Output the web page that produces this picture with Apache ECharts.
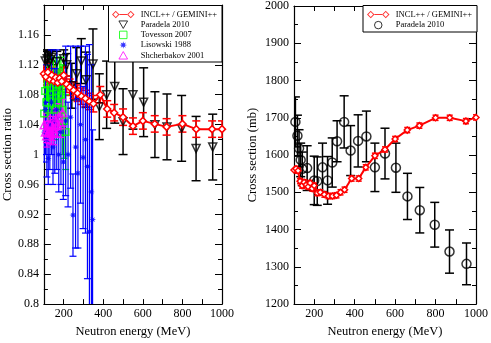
<!DOCTYPE html>
<html>
<head>
<meta charset="utf-8">
<script src="https://cdn.jsdelivr.net/npm/echarts@6/dist/echarts.min.js"></script>
<style>
  html, body { margin: 0; padding: 0; background: #fff; }
  #chart { width: 491px; height: 343px; }
</style>
</head>
<body>
<div id="chart"></div>
<script>
// INCL++ / GEMINI++ calculation (same energies in both panels)
const energyIncl = [100,110,120,130,140,150,160,170,180,190,200,215,230,250,270,290,310,330,350,385,420,455,500,550,600,660,720,800,870,950,1000];
const ratioIncl = [1.108,1.104,1.110,1.100,1.106,1.098,1.103,1.096,1.102,1.098,1.106,1.094,1.090,1.086,1.082,1.078,1.075,1.071,1.068,1.080,1.061,1.056,1.050,1.038,1.045,1.041,1.037,1.041,1.034,1.034,1.034];
const ratioInclErr = 0.011;
const xsIncl = [1560,1563,1558,1530,1518,1527,1520,1515,1525,1510,1518,1498,1500,1494,1490,1490,1492,1500,1507,1537,1537,1567,1598,1615,1643,1667,1679,1700,1700,1691,1701];
const xsInclErr = 7;

// Paradela 2010
const energyParadela = [107,117,125,133,141,165,200,215,241,266,289,313,348,380,417,458,500,550,604,661,722,796,869,953];
const ratioParadela = [1.125,1.128,1.122,1.127,1.130,1.124,1.128,1.120,1.092,1.108,1.125,1.100,1.121,1.064,1.080,1.091,1.044,1.080,1.070,1.040,1.037,1.035,1.008,1.010];
const ratioParadelaErr = [0.013,0.012,0.014,0.012,0.010,0.014,0.012,0.015,0.030,0.035,0.030,0.037,0.047,0.044,0.045,0.049,0.044,0.046,0.046,0.044,0.044,0.044,0.043,0.044];
const xsParadela = [1689,1652,1618,1587,1563,1565,1532,1530,1567,1532,1580,1637,1689,1612,1638,1650,1567,1604,1566,1489,1452,1413,1341,1308];
const xsParadelaErr = [67,55,50,45,45,60,65,65,65,64,66,55,70,67,70,68,65,68,66,62,61,60,58,56];

// Tovesson 2007
const energyTovesson = [101,106,112,118,124,130,136,142,148,154,160,166,172,178,186,194,202,210];
const ratioTovesson = [1.055,1.085,1.070,1.095,1.060,1.080,1.100,1.075,1.090,1.060,1.100,1.085,1.070,1.095,1.080,1.060,1.045,1.030];
const ratioTovessonErr = [0.020,0.025,0.020,0.025,0.030,0.025,0.030,0.030,0.035,0.040,0.030,0.040,0.045,0.035,0.050,0.060,0.050,0.050];

// Lisowski 1988
const energyLisowski = [102,108,115,122,130,138,146,155,165,175,186,198,210,222,235,247,260,272,285,298,310,320,330,340,346];
const ratioLisowski = [1.030,1.060,1.020,0.995,1.040,1.070,1.010,1.045,1.060,1.000,1.030,0.990,1.045,1.000,1.050,0.919,1.010,0.975,1.040,0.996,1.020,0.984,0.897,0.950,0.913];
const ratioLisowskiErr = [0.040,0.060,0.050,0.035,0.060,0.070,0.050,0.070,0.080,0.050,0.070,0.050,0.100,0.070,0.095,0.055,0.135,0.100,0.105,0.095,0.125,0.150,0.250,0.170,0.120];

// Shcherbakov 2001
const energyShcherbakov = [102,108,114,120,126,132,138,144,150,158,166,175,185,195];
const ratioShcherbakov = [1.040,1.030,1.025,1.035,1.030,1.040,1.028,1.035,1.030,1.045,1.040,1.050,1.040,1.056];
const ratioShcherbakovErr = [0.015,0.014,0.015,0.016,0.015,0.016,0.015,0.016,0.017,0.016,0.017,0.018,0.017,0.018];

const ratioTicks = { min: 0.8, max: 1.2, interval: 0.04 };
const xsTicks = { min: 1200, max: 2000, interval: 100 };
const energyTicks = { min: 100, max: 1000, interval: 100 };

const SERIF = '"Liberation Serif", "DejaVu Serif", serif';
const RED = '#ff0000', BLACK = '#000000', GREEN = '#00ff00', BLUE = '#0000ff', MAGENTA = '#ff00ff';

const inclIcon = 'path://M0,5L5,0L10,5L5,10ZM1.8,5L5,8.2L8.2,5L5,1.8Z' +
  'M10,4.3L20,4.3L20,5.7L10,5.7Z' +
  'M20,5L25,0L30,5L25,10ZM21.8,5L25,8.2L28.2,5L25,1.8Z';
const downTriangle = 'path://M0,0L10,0L5,8.66Z';
const upTriangle = 'path://M5,0L10,8.66L0,8.66Z';
const square = 'path://M0,0L10,0L10,10L0,10Z';
let starPath = 'path://';
for (let k = 0; k < 16; k++) {
  const a = k * Math.PI / 8, r = k % 2 === 0 ? 5 : 2.2;
  starPath += (k === 0 ? 'M' : 'L') + (5 + r * Math.sin(a)).toFixed(2) + ',' + (5 - r * Math.cos(a)).toFixed(2);
}
starPath += 'Z';

function zip(xs, ys, es) {
  return xs.map((x, i) => [x, ys[i], Array.isArray(es) ? es[i] : es]);
}

function errorBars(color, capHalf, width) {
  return function (params, api) {
    const x = api.value(0), y = api.value(1), e = api.value(2);
    const top = api.coord([x, y + e]), bot = api.coord([x, y - e]);
    const st = { stroke: color, lineWidth: width };
    return {
      type: 'group',
      children: [
        { type: 'line', shape: { x1: top[0], y1: top[1], x2: bot[0], y2: bot[1] }, style: st },
        { type: 'line', shape: { x1: top[0] - capHalf, y1: top[1], x2: top[0] + capHalf, y2: top[1] }, style: st },
        { type: 'line', shape: { x1: bot[0] - capHalf, y1: bot[1], x2: bot[0] + capHalf, y2: bot[1] }, style: st }
      ]
    };
  };
}

function errSeries(data, axis, color, capHalf, width) {
  return {
    type: 'custom', xAxisIndex: axis, yAxisIndex: axis, clip: true,
    renderItem: errorBars(color, capHalf, width),
    encode: { x: 0, y: 1 }, data: data, silent: true
  };
}

function pointSeries(name, data, axis, symbol, size, color, filled) {
  return {
    name: name, type: 'scatter', xAxisIndex: axis, yAxisIndex: axis,
    symbol: symbol, symbolSize: size, clip: true,
    itemStyle: filled ? { color: color } : { color: 'transparent', borderColor: color, borderWidth: 1.5 },
    data: data.map(d => [d[0], d[1]])
  };
}

function inclLine(data, axis, size) {
  return {
    type: 'line', xAxisIndex: axis, yAxisIndex: axis,
    symbol: 'diamond', symbolSize: size, showAllSymbol: true,
    itemStyle: { color: '#ffffff', borderColor: RED, borderWidth: 1.5 },
    lineStyle: { color: RED, width: 2 },
    data: data.map(d => [d[0], d[1]])
  };
}

const tickStyle = { lineStyle: { color: BLACK, width: 1 } };
const labelStyle = { color: BLACK, fontFamily: SERIF, fontSize: 12 };
const nameStyle = { color: BLACK, fontFamily: SERIF, fontSize: 12.5 };

function xAxes(grid) {
  const base = Object.assign({ type: 'value', gridIndex: grid, splitLine: { show: false } }, energyTicks);
  return [
    Object.assign({}, base, {
      position: 'bottom',
      name: 'Neutron energy (MeV)', nameLocation: 'middle', nameGap: 17, nameTextStyle: nameStyle,
      axisLine: { onZero: false, lineStyle: { color: BLACK, width: 1.2 } },
      axisTick: Object.assign({ inside: true, length: 5 }, tickStyle),
      axisLabel: Object.assign({ margin: 4, formatter: v => (v % 200 === 0 ? String(v) : '') }, labelStyle)
    }),
    Object.assign({}, base, {
      position: 'top',
      axisLine: { onZero: false, lineStyle: { color: BLACK, width: 1.2 } },
      axisTick: Object.assign({ inside: true, length: 5 }, tickStyle),
      axisLabel: { show: false }
    })
  ];
}

function yAxes(grid, ticks, name, nameGap, showMax) {
  const base = Object.assign({ type: 'value', gridIndex: grid, splitLine: { show: false } }, ticks);
  return [
    Object.assign({}, base, {
      position: 'left',
      name: name, nameLocation: 'middle', nameGap: nameGap, nameTextStyle: nameStyle,
      axisLine: { onZero: false, lineStyle: { color: BLACK, width: 1.2 } },
      axisTick: Object.assign({ inside: true, length: 7 }, tickStyle),
      minorTick: { show: true, splitNumber: 2, length: 4, lineStyle: { color: BLACK } },
      axisLabel: Object.assign({ margin: 5, showMaxLabel: showMax, formatter: v => String(+v.toFixed(2)) }, labelStyle)
    }),
    Object.assign({}, base, {
      position: 'right',
      axisLine: { onZero: false, lineStyle: { color: BLACK, width: 1.2 } },
      axisTick: Object.assign({ inside: true, length: 7 }, tickStyle),
      minorTick: { show: true, splitNumber: 2, length: 4, lineStyle: { color: BLACK } },
      axisLabel: { show: false }
    })
  ];
}

const inclRatio = zip(energyIncl, ratioIncl, ratioInclErr);
const paradelaRatio = zip(energyParadela, ratioParadela, ratioParadelaErr);
const tovessonRatio = zip(energyTovesson, ratioTovesson, ratioTovessonErr);
const lisowskiRatio = zip(energyLisowski, ratioLisowski, ratioLisowskiErr);
const shcherbakovRatio = zip(energyShcherbakov, ratioShcherbakov, ratioShcherbakovErr);
const inclXs = zip(energyIncl, xsIncl, xsInclErr);
const paradelaXs = zip(energyParadela, xsParadela, xsParadelaErr);

const legendText = { color: BLACK, fontFamily: SERIF, fontSize: 8.5, lineHeight: 8 };
const legendItem = { borderWidth: 1 };

const chart = echarts.init(document.getElementById('chart'), null, { renderer: 'canvas' });
chart.setOption({
  backgroundColor: '#ffffff',
  animation: false,
  grid: [
    { left: 40, right: 269, top: 5, bottom: 30 },
    { left: 294, right: 14, top: 5, bottom: 30 }
  ],
  xAxis: xAxes(0).concat(xAxes(1)),
  yAxis: yAxes(0, ratioTicks, 'Cross section ratio', 28, false).concat(yAxes(1, xsTicks, 'Cross section (mb)', 35, true)),
  graphic: [
    { type: 'rect', z: 50, shape: { x: 108.5, y: 5.5, width: 113.5, height: 56.5 },
      style: { fill: '#fff', stroke: BLACK, lineWidth: 1 } },
    { type: 'rect', z: 50, shape: { x: 363, y: 5.5, width: 114, height: 26.5 },
      style: { fill: '#fff', stroke: BLACK, lineWidth: 1 } }
  ],
  legend: [
    {
      z: 60, left: 112, top: 10, orient: 'vertical', padding: 0, itemGap: 1.2,
      itemWidth: 25, itemHeight: 7.5, textStyle: legendText, itemStyle: legendItem,
      data: [
        { name: 'INCL++ / GEMINI++', icon: inclIcon, itemStyle: { color: RED, borderWidth: 0 } },
        'Paradela 2010', 'Tovesson 2007', 'Lisowski 1988', 'Shcherbakov 2001'
      ]
    },
    {
      z: 60, left: 367, top: 10, orient: 'vertical', padding: 0, itemGap: 1.6,
      itemWidth: 25, itemHeight: 7.5, textStyle: legendText, itemStyle: legendItem,
      data: [
        { name: 'INCL++ / GEMINI++', icon: inclIcon, itemStyle: { color: RED, borderWidth: 0 } },
        'Paradela 2010 '
      ]
    }
  ],
  series: [
    // left panel: ratio
    errSeries(paradelaRatio, 0, BLACK, 4.5, 1.5),
    pointSeries('Paradela 2010', paradelaRatio, 0, downTriangle, 8, BLACK, false),
    errSeries(inclRatio, 0, RED, 4, 1.5),
    inclLine(inclRatio, 0, 7),
    errSeries(tovessonRatio, 0, GREEN, 3.5, 1.2),
    pointSeries('Tovesson 2007', tovessonRatio, 0, square, 6.5, GREEN, false),
    errSeries(lisowskiRatio, 0, BLUE, 3.5, 1.2),
    pointSeries('Lisowski 1988', lisowskiRatio, 0, starPath, 7, BLUE, true),
    errSeries(shcherbakovRatio, 0, MAGENTA, 3.5, 1.2),
    pointSeries('Shcherbakov 2001', shcherbakovRatio, 0, upTriangle, 8, MAGENTA, false),
    { name: 'INCL++ / GEMINI++', type: 'scatter', xAxisIndex: 0, yAxisIndex: 0, symbol: inclIcon,
      itemStyle: { color: RED }, data: [] },
    // right panel: cross section
    errSeries(paradelaXs, 2, BLACK, 4.5, 1.5),
    pointSeries('Paradela 2010 ', paradelaXs, 2, 'circle', 9, BLACK, false),
    errSeries(inclXs, 2, RED, 3, 1.5),
    inclLine(inclXs, 2, 6)
  ]
});
</script>
</body>
</html>
